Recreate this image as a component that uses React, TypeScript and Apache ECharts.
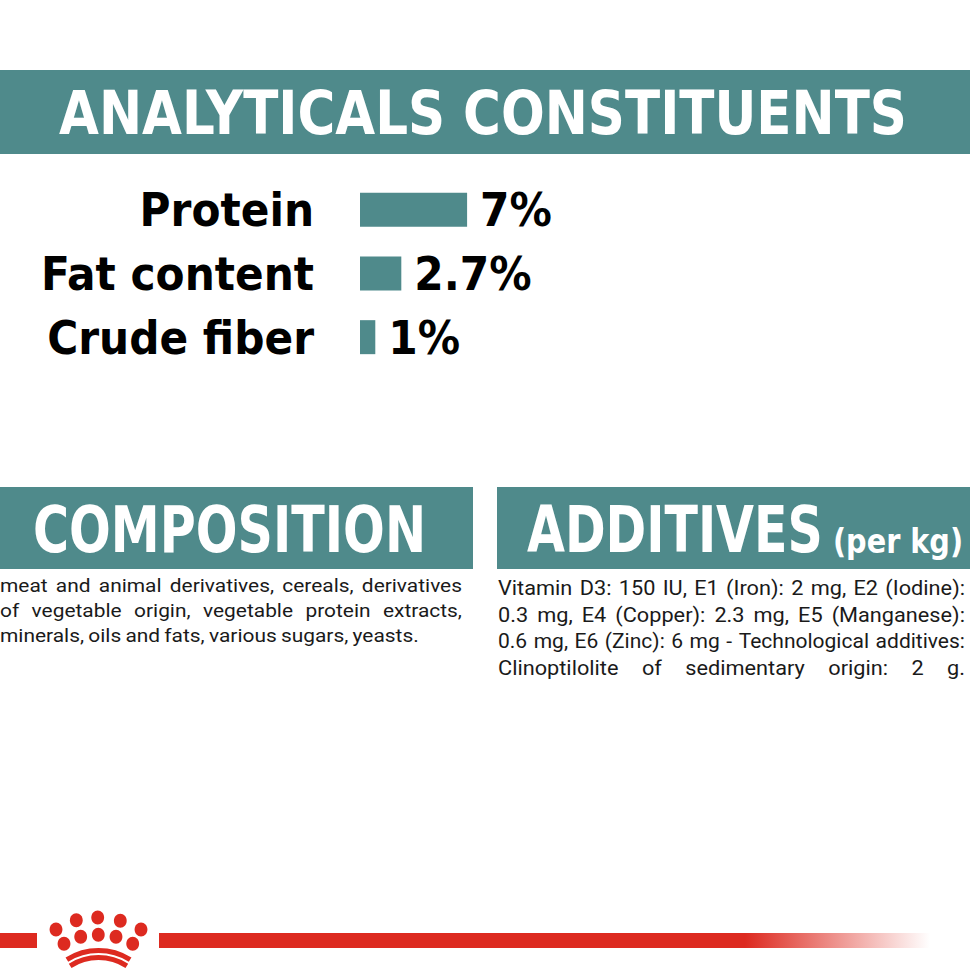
import React, { useEffect, useRef } from "react";
import * as echarts from "echarts";

// ---------- data ----------
const categories = ["Protein", "Fat content", "Crude fiber"];
const values = [7, 2.7, 1];
const valueSuffix = "%";

const mainTitle = "ANALYTICALS CONSTITUENTS";
const compositionTitle = "COMPOSITION";
const additivesTitle = "ADDITIVES";
const additivesUnit = "(per kg)";

const compositionLines = [
  "meat and animal derivatives, cereals, derivatives",
  "of vegetable origin, vegetable protein extracts,",
  "minerals, oils and fats, various sugars, yeasts.",
];
const compositionJustify = [true, true, false];

const additivesLines = [
  "Vitamin D3: 150 IU, E1 (Iron): 2 mg, E2 (Iodine):",
  "0.3 mg, E4 (Copper): 2.3 mg, E5 (Manganese):",
  "0.6 mg, E6 (Zinc): 6 mg - Technological additives:",
  "Clinoptilolite of sedimentary origin: 2 g.",
];
const additivesJustify = [true, true, true, true];

// ---------- styles ----------
const TEAL = "#4f8a8b";
const RED = "#dd2a20";
const HEAD_FONT = "DejaVu Sans Condensed";
const BODY_FONT = "Roboto";
const TEXT_COLOR = "#1a1a1a";

let measureCtx: CanvasRenderingContext2D | null = null;
function measure(text: string, font: string): number {
  if (!measureCtx) measureCtx = document.createElement("canvas").getContext("2d");
  if (!measureCtx) return text.length * 10;
  measureCtx.font = font;
  return measureCtx.measureText(text).width;
}

function fittedTitle(text: string, x: number, cy: number, size: number, targetW: number) {
  const font = `bold ${size}px "${HEAD_FONT}"`;
  const w = measure(text, font);
  return {
    type: "text",
    x,
    y: cy,
    scaleX: targetW / w,
    silent: true,
    style: {
      text,
      x: 0,
      y: 0,
      font,
      fill: "#ffffff",
      align: "left",
      verticalAlign: "middle",
      textAlign: "left",
      textVerticalAlign: "middle",
    },
  };
}

function paragraph(
  lines: string[],
  justify: boolean[],
  left: number,
  right: number,
  firstCy: number,
  lineH: number,
  size: number,
  stretch: number,
  minGap: number
) {
  const font = `${size}px "${BODY_FONT}"`;
  const spaceW = measure(" ", font) * 0.9;
  const els: any[] = [];
  lines.forEach((line, li) => {
    const words = line.split(" ");
    const raw = words.map((w) => measure(w, font));
    const rawTotal = raw.reduce((a, b) => a + b, 0);
    const avail = right - left - minGap * (words.length - 1);
    const s = justify[li] ? Math.min(stretch, avail / rawTotal) : stretch;
    const widths = raw.map((w) => w * s);
    const total = rawTotal * s;
    const gap = justify[li] && words.length > 1 ? (right - left - total) / (words.length - 1) : spaceW;
    let x = left;
    const cy = firstCy + li * lineH;
    words.forEach((w, i) => {
      els.push({
        type: "text",
        x,
        y: cy,
        scaleX: s,
        silent: true,
        style: {
          text: w,
          x: 0,
          y: 0,
          font,
          fill: TEXT_COLOR,
          align: "left",
          verticalAlign: "middle",
          textAlign: "left",
          textVerticalAlign: "middle",
        },
      });
      x += widths[i] + gap;
    });
  });
  return els;
}

// decorative crown logo (shape geometry, not data)
const CROWN_DOTS: [number, number][] = [
  [56, 929.5], [76.3, 920.3], [97.7, 917.5], [120.3, 920.7], [141, 929.5],
  [64, 943.7], [80.7, 936.7], [98.3, 934.7], [116, 936.7], [132.7, 943.7],
];

function buildLogo() {
  const els: any[] = [];
  els.push({ type: "rect", silent: true, shape: { x: 0, y: 933, width: 37, height: 15 }, style: { fill: RED } });
  els.push({
    type: "rect",
    silent: true,
    shape: { x: 159, y: 933, width: 771, height: 15 },
    style: {
      fill: new echarts.graphic.LinearGradient(0, 0, 1, 0, [
        { offset: 0, color: RED },
        { offset: 0.76, color: RED },
        { offset: 1, color: "rgba(221,42,32,0)" },
      ]),
    },
  });
  CROWN_DOTS.forEach(([cx, cy]) => {
    els.push({ type: "ellipse", silent: true, shape: { cx, cy, rx: 6.4, ry: 7 }, style: { fill: RED } });
  });
  const ccx = 98.5;
  const ccy = 1010;
  [
    { r: 59.5, a: 0.56 },
    { r: 52.5, a: 0.57 },
  ].forEach(({ r, a }) => {
    els.push({
      type: "arc",
      silent: true,
      shape: { cx: ccx, cy: ccy, r, startAngle: -Math.PI / 2 - a, endAngle: -Math.PI / 2 + a, clockwise: true },
      style: { stroke: RED, lineWidth: 5, fill: "none" },
    });
  });
  return els;
}

export default function App() {
  const ref = useRef<HTMLDivElement>(null);
  useEffect(() => {
    if (!ref.current) return;
    const chart = echarts.init(ref.current, null, { renderer: "svg" });

    const graphics: any[] = [
      { type: "rect", silent: true, shape: { x: 0, y: 70, width: 970, height: 84 }, style: { fill: TEAL } },
      { type: "rect", silent: true, shape: { x: 0, y: 487, width: 473, height: 82 }, style: { fill: TEAL } },
      { type: "rect", silent: true, shape: { x: 497, y: 487, width: 473, height: 82 }, style: { fill: TEAL } },
      fittedTitle(mainTitle, 59, 114, 60, 848),
      fittedTitle(compositionTitle, 33, 530, 64, 393),
      fittedTitle(additivesTitle, 527, 530, 64, 296),
      fittedTitle(additivesUnit, 833, 542, 33, 130),
      ...paragraph(compositionLines, compositionJustify, 0, 462, 585, 25, 19, 1.1, 4),
      ...paragraph(additivesLines, additivesJustify, 498, 965, 588, 26.7, 20.5, 1.06, 6.5),
      ...buildLogo(),
    ];

    const labelFont = {
      fontSize: 47,
      fontWeight: "bold" as const,
      fontFamily: HEAD_FONT,
      color: "#000000",
    };

    chart.setOption({
      animation: false,
      backgroundColor: "#ffffff",
      grid: { left: 360, top: 178, width: 153, height: 191, containLabel: false, outerBoundsMode: "none" },
      xAxis: { type: "value", min: 0, max: 10, show: false },
      yAxis: {
        type: "category",
        data: categories,
        inverse: true,
        axisLine: { show: false },
        axisTick: { show: false },
        splitLine: { show: false },
        axisLabel: { ...labelFont, margin: 46 },
      },
      series: [
        {
          type: "bar",
          data: values,
          barWidth: 34,
          itemStyle: { color: TEAL },
          label: {
            show: true,
            position: "right",
            distance: 13,
            formatter: (p: any) => `${p.value}${valueSuffix}`,
            ...labelFont,
          },
        },
      ],
      graphic: { elements: graphics },
    });
    return () => chart.dispose();
  }, []);
  return (
    <div
      ref={ref}
      style={{ position: "absolute", left: 0, top: 0, width: 970, height: 971, background: "#fff" }}
    />
  );
}
